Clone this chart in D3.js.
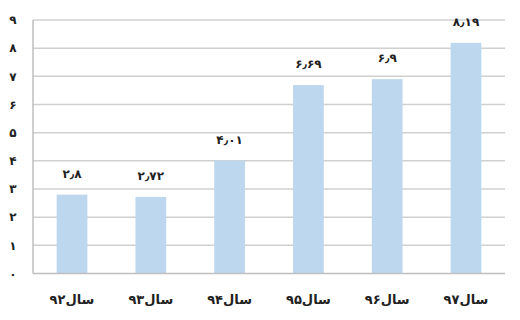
<!DOCTYPE html>
<html>
<head>
<meta charset="utf-8">
<script src="https://cdn.jsdelivr.net/npm/d3@7"></script>
<style>
  body { margin: 0; background: #fff; }
  svg text { font-family: "DejaVu Sans", sans-serif; font-weight: bold; fill: #222; }
</style>
</head>
<body>
<svg id="chart" width="520" height="320"></svg>
<script>
const years = ['۹۲', '۹۳', '۹۴', '۹۵', '۹۶', '۹۷'];
const values = [2.8, 2.72, 4.01, 6.69, 6.9, 8.19];
const valueLabels = ['۲٫۸', '۲٫۷۲', '۴٫۰۱', '۶٫۶۹', '۶٫۹', '۸٫۱۹'];
const yTicks = [0, 1, 2, 3, 4, 5, 6, 7, 8, 9];

const toFa = (n) => String(n).replace(/\d/g, (d) => '۰۱۲۳۴۵۶۷۸۹'[d]);

(function () {
  const svg = d3.select('#chart');
  const left = 33, right = 505, top = 20, bottom = 273.5;

  const x = d3.scaleBand().domain(years).range([left, right]).paddingInner(0.61).paddingOuter(0.3);
  const y = d3.scaleLinear().domain([0, 9]).range([bottom, top]);

  // gridlines
  svg.append('g')
    .selectAll('line')
    .data(yTicks.slice(1))
    .join('line')
    .attr('x1', left).attr('x2', right)
    .attr('y1', (d) => y(d)).attr('y2', (d) => y(d))
    .attr('stroke', '#d0d0d0')
    .attr('stroke-width', 1.5);

  // y tick labels
  svg.append('g')
    .selectAll('text')
    .data(yTicks)
    .join('text')
    .attr('x', 13)
    .attr('y', (d) => y(d))
    .attr('dy', '0.35em')
    .attr('text-anchor', 'middle')
    .attr('font-size', 12)
    .text((d) => toFa(d));

  // bars
  svg.append('g')
    .selectAll('rect')
    .data(values)
    .join('rect')
    .attr('x', (d, i) => x(years[i]))
    .attr('width', x.bandwidth())
    .attr('y', (d) => y(d))
    .attr('height', (d) => y(0) - y(d))
    .attr('fill', '#bdd7ee');

  // value labels
  svg.append('g')
    .selectAll('text')
    .data(values)
    .join('text')
    .attr('x', (d, i) => x(years[i]) + x.bandwidth() / 2)
    .attr('y', (d) => y(d) - 17)
    .attr('text-anchor', 'middle')
    .attr('font-size', 12)
    .text((d, i) => valueLabels[i]);

  // axis frame
  svg.append('line')
    .attr('x1', left).attr('x2', right)
    .attr('y1', y(0)).attr('y2', y(0))
    .attr('stroke', '#bfbfbf').attr('stroke-width', 1.5);
  svg.append('line')
    .attr('x1', left).attr('x2', left)
    .attr('y1', top).attr('y2', y(0))
    .attr('stroke', '#bfbfbf').attr('stroke-width', 1.5);

  // category labels
  svg.append('g')
    .selectAll('text')
    .data(years)
    .join('text')
    .attr('x', (d) => x(d) + x.bandwidth() / 2)
    .attr('y', 304)
    .attr('text-anchor', 'middle')
    .attr('direction', 'rtl')
    .attr('font-size', 13)
    .text((d) => 'سال' + d);
})();
</script>
</body>
</html>
